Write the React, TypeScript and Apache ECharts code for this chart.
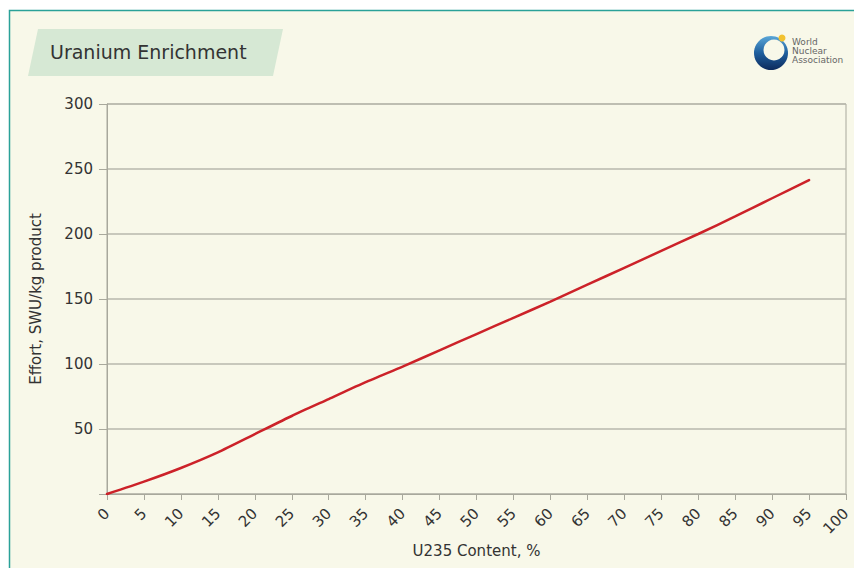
import React, { useEffect, useRef } from "react";
import * as echarts from "echarts";

const xValues = [0, 5, 10, 15, 20, 25, 30, 35, 40, 45, 50, 55, 60, 65, 70, 75, 80, 85, 90, 95];
const effort = [0, 9.5, 20, 32, 46, 60, 73, 86, 98, 110.5, 123, 135.5, 148, 161, 174, 187, 200, 213.5, 227.5, 241.5];
const title = "Uranium Enrichment";
const xName = "U235 Content, %";
const yName = "Effort, SWU/kg product";
const logoLines = ["World", "Nuclear", "Association"];

export default function App() {
  const ref = useRef<HTMLDivElement>(null);
  useEffect(() => {
    document.body.style.margin = "0";
    const chart = echarts.init(ref.current!, undefined, { renderer: "svg" });
    const font = "DejaVu Sans, Verdana, sans-serif";
    chart.setOption({
      animation: false,
      backgroundColor: "#ffffff",
      grid: {
        left: 107,
        right: 8,
        top: 104,
        bottom: 74,
        show: true,
        borderColor: "#a8a89c",
        borderWidth: 1,
        backgroundColor: "transparent",
      },
      graphic: [
        {
          type: "rect",
          z: -10,
          silent: true,
          shape: { x: 9.5, y: 10.5, width: 900, height: 600 },
          style: { fill: "#f8f8e9", stroke: "#2aa198", lineWidth: 1.5 },
        },
        {
          type: "polygon",
          z: -5,
          silent: true,
          shape: { points: [[38, 29], [283, 29], [273, 76], [28, 76]] },
          style: { fill: "#d6e8d4" },
        },
        {
          type: "text",
          z: 10,
          left: 50,
          top: 42,
          style: { text: title, fill: "#333333", font: `19px ${font}` },
        },
        {
          type: "circle",
          z: 10,
          shape: { cx: 771, cy: 53, r: 17 },
          style: {
            fill: new echarts.graphic.LinearGradient(0, 0, 0, 1, [
              { offset: 0, color: "#5aa7d8" },
              { offset: 0.5, color: "#1f5f9e" },
              { offset: 1, color: "#0d2a5c" },
            ]),
          },
        },
        {
          type: "circle",
          z: 11,
          shape: { cx: 774, cy: 50, r: 10.5 },
          style: { fill: "#f8f8e9" },
        },
        {
          type: "circle",
          z: 12,
          shape: { cx: 782, cy: 38, r: 3.5 },
          style: { fill: "#f2c230" },
        },
        ...logoLines.map((t, i) => ({
          type: "text",
          z: 10,
          left: 792,
          top: 37 + i * 9,
          style: { text: t, fill: "#666666", font: `9px ${font}` },
        })),
      ],
      xAxis: {
        type: "value",
        min: 0,
        max: 100,
        interval: 5,
        name: xName,
        nameLocation: "middle",
        nameGap: 47,
        nameTextStyle: { color: "#333333", fontSize: 15, fontFamily: font },
        axisLine: { show: true, lineStyle: { color: "#a8a89c", width: 1 } },
        axisTick: { show: true, length: 6, lineStyle: { color: "#a8a89c" } },
        axisLabel: { rotate: 45, color: "#333333", fontSize: 15, fontFamily: font, margin: 17 },
        splitLine: { show: false },
      },
      yAxis: {
        type: "value",
        min: 0,
        max: 300,
        interval: 50,
        name: yName,
        nameLocation: "middle",
        nameGap: 64,
        nameTextStyle: { color: "#333333", fontSize: 15, fontFamily: font },
        axisLine: { show: true, lineStyle: { color: "#a8a89c", width: 1 } },
        axisTick: { show: true, length: 8, lineStyle: { color: "#a8a89c" } },
        axisLabel: {
          color: "#333333",
          fontSize: 15,
          fontFamily: font,
          margin: 14,
          formatter: (v: number) => (v === 0 ? "" : String(v)),
        },
        splitLine: { show: true, lineStyle: { color: "#b8b8ac", width: 1.5 } },
      },
      series: [
        {
          type: "line",
          data: xValues.map((x, i) => [x, effort[i]]),
          showSymbol: false,
          smooth: 0.2,
          lineStyle: { color: "#cc2229", width: 2.5, cap: "round" },
          z: 5,
        },
      ],
    });
    return () => chart.dispose();
  }, []);
  return <div ref={ref} style={{ width: 854, height: 568 }} />;
}
